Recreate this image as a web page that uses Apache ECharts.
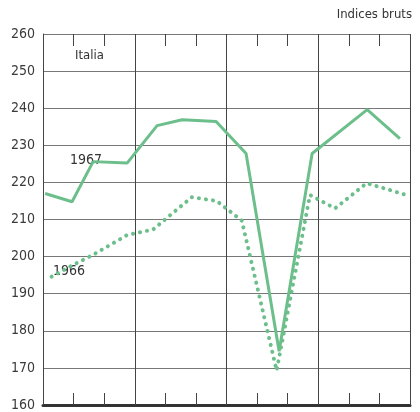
<!DOCTYPE html>
<html>
<head>
<meta charset="utf-8">
<script src="https://cdn.jsdelivr.net/npm/echarts@6/dist/echarts.min.js"></script>
<style>html,body{margin:0;padding:0;background:#fff}#c{width:420px;height:412px}</style>
</head>
<body>
<div id="c"></div>
<script>
// x in months from start of year (0..12)
const months1967 = [0.07, 0.95, 1.64, 2.75, 3.73, 4.55, 5.66, 6.64, 7.72, 8.80, 10.6, 11.67];
const values1967 = [217, 214.8, 225.6, 225.2, 235.3, 236.9, 236.4, 227.8, 174.5, 227.8, 239.6, 231.8];
const months1966 = [0.28, 0.95, 1.64, 2.75, 3.6, 4.86, 5.68, 6.5, 7.64, 8.73, 9.55, 10.58, 12.0];
const values1966 = [194.6, 197.6, 200.5, 205.8, 207.3, 216.0, 215.0, 209.7, 169.3, 216.6, 213.0, 219.8, 216.3];
const yTicks = {min: 160, max: 260, step: 10};
const labels = {y1967: '1967', y1966: '1966', country: 'Italia', unit: 'Indices bruts'};

const pair = (xs, ys) => xs.map((x, i) => [x, ys[i]]);
const green = '#6cbf8b';
const font = '"Liberation Sans Narrow", "DejaVu Sans Condensed", sans-serif';

const xAxisBase = {
  type: 'value', min: 0, max: 12, interval: 3,
  axisLabel: {show: false},
  axisLine: {show: false},
  axisTick: {show: true, inside: true, length: 12, lineStyle: {color: '#444', width: 1}},
  minorTick: {show: true, splitNumber: 3, length: 12, lineStyle: {color: '#444', width: 1}},
  splitLine: {show: true, lineStyle: {color: '#444', width: 1}}
};

const chart = echarts.init(document.getElementById('c'), null, {renderer: 'canvas'});
chart.setOption({
  animation: false,
  backgroundColor: '#fff',
  grid: {left: 43, right: 10, top: 34, bottom: 2, containLabel: false},
  xAxis: [
    Object.assign({}, xAxisBase, {position: 'bottom',
      axisLine: {show: true, onZero: false, lineStyle: {color: '#333', width: 3}}}),
    Object.assign({}, xAxisBase, {position: 'top', splitLine: {show: false}})
  ],
  yAxis: {
    type: 'value', min: yTicks.min, max: yTicks.max, interval: yTicks.step,
    axisLine: {show: true, lineStyle: {color: '#444', width: 1}},
    axisTick: {show: false},
    axisLabel: {color: '#3a3a3a', fontSize: 14, fontFamily: font, margin: 8},
    splitLine: {show: true, lineStyle: {color: '#777', width: 1}}
  },
  graphic: [
    {type: 'text', left: 75, top: 49, style: {text: labels.country, fill: '#333', fontSize: 13, fontFamily: font}},
    {type: 'text', right: 8, top: 8, style: {text: labels.unit, fill: '#333', fontSize: 13, fontFamily: font}},
    {type: 'text', left: 70, top: 153, style: {text: labels.y1967, fill: '#333', fontSize: 14, fontFamily: font}},
    {type: 'text', left: 53, top: 264, style: {text: labels.y1966, fill: '#333', fontSize: 14, fontFamily: font}}
  ],
  series: [
    {
      name: '1967', type: 'line', xAxisIndex: 0, data: pair(months1967, values1967),
      symbol: 'none', lineStyle: {color: green, width: 3}, z: 3
    },
    {
      name: '1966', type: 'line', xAxisIndex: 0, data: pair(months1966, values1966),
      symbol: 'none', lineStyle: {color: green, width: 4, type: [0.1, 7], cap: 'round', join: 'round'}, z: 2
    }
  ]
});
</script>
</body>
</html>
